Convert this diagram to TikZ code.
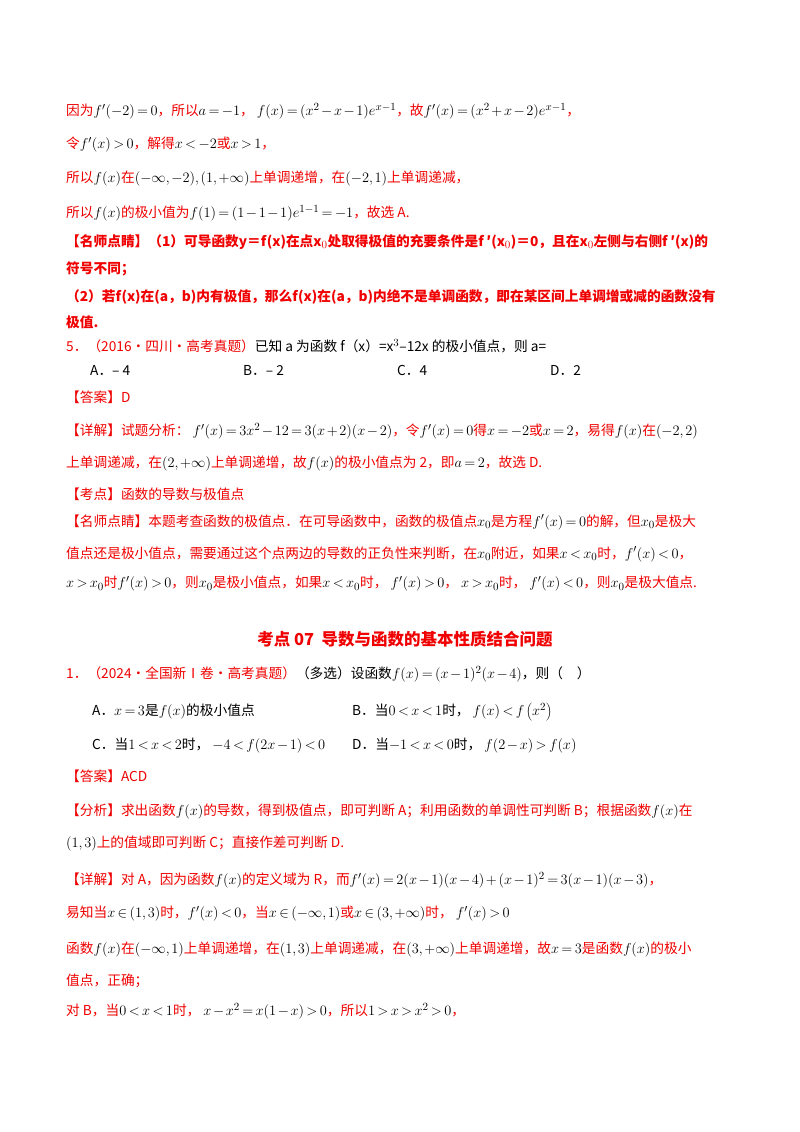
\documentclass[tikz,border=0pt]{standalone}
\usepackage{fontspec}
\setmainfont{Noto Sans CJK SC}
\DeclareMathSizes{13.7}{15}{11}{9}
\definecolor{rd}{RGB}{240,0,0}
\newcommand\rr[1]{\textcolor{rd}{#1}}
\thickmuskip=3mu\relax
\medmuskip=2mu\relax
\thinmuskip=2mu\relax
\begin{document}
\begin{tikzpicture}[x=1pt,y=-1pt,
  ln/.style={anchor=west,inner sep=0pt,font=\fontsize{13.7}{16}\selectfont}]
\useasboundingbox[fill=white] (0,0) rectangle (800,1132);
\node[ln] (l1) at (66,111) {\rr{因为}$f'(-2)=0$\rr{，所以}$a=-1$\rr{，}\ $f(x)=(x^2-x-1)e^{x-1}$\rr{，故}$f'(x)=(x^2+x-2)e^{x-1}$\rr{，}};
\node[ln] (l2) at (66,145) {\rr{令}$f'(x)>0$\rr{，解得}$x<-2$\rr{或}$x>1$\rr{，}};
\node[ln] (l3) at (66,179) {\rr{所以}$f(x)$\rr{在}$(-\infty,-2),(1,+\infty)$\rr{上单调递增，在}$(-2,1)$\rr{上单调递减，}};
\node[ln] (l4) at (66,213) {\rr{所以}$f(x)$\rr{的极小值为}$f(1)=(1-1-1)e^{1-1}=-1$\rr{，故选 A.}};
\node[ln] (l5) at (66,242) {\rr{\bfseries 【名师点睛】（1）可导函数\textit{y}＝\textit{f}(\textit{x})在点\textit{x}$_0$处取得极值的充要条件是\textit{f}\,′(\textit{x}$_0$)＝0，且在\textit{x}$_0$左侧与右侧\textit{f}\,′(\textit{x})的}};
\node[ln] (l6) at (66,269) {\rr{\bfseries 符号不同；}};
\node[ln] (l7) at (66,297) {\rr{\bfseries （2）若\textit{f}(\textit{x})在(\textit{a}，\textit{b})内有极值，那么\textit{f}(\textit{x})在(\textit{a}，\textit{b})内绝不是单调函数，即在某区间上单调增或减的函数没有}};
\node[ln] (l8) at (66,322) {\rr{\bfseries 极值.}};
\node[ln] (l9) at (66,346) {\rr{5．（2016·四川·高考真题）}已知 a 为函数 f（x）=x$^3$–12x 的极小值点，则 a=};
\node[ln] (oA) at (90,370) {A．– 4};
\node[ln] (oB) at (243,370) {B．– 2};
\node[ln] (oC) at (397,370) {C．4};
\node[ln] (oD) at (550,370) {D．2};
\node[ln] (l10) at (66,397) {\rr{【答案】D}};
\node[ln] (l11) at (66,431) {\rr{【详解】试题分析：}\ $f'(x)=3x^2-12=3(x+2)(x-2)$\rr{，令}$f'(x)=0$\rr{得}$x=-2$\rr{或}$x=2$\rr{，易得}$f(x)$\rr{在}$(-2,2)$};
\node[ln] (l12) at (66,464) {\rr{上单调递减，在}$(2,+\infty)$\rr{上单调递增，故}$f(x)$\rr{的极小值点为 2，即}$a=2$\rr{，故选 D.}};
\node[ln] (l13) at (66,494) {\rr{【考点】函数的导数与极值点}};
\node[ln] (l14) at (66,522) {\rr{【名师点睛】本题考查函数的极值点．在可导函数中，函数的极值点}$x_0$\rr{是方程}$f'(x)=0$\rr{的解，但}$x_0$\rr{是极大}};
\node[ln] (l15) at (66,554) {\rr{值点还是极小值点，需要通过这个点两边的导数的正负性来判断，在}$x_0$\rr{附近，如果}$x<x_0$\rr{时，}$f'(x)<0$\rr{，}};
\node[ln] (l16) at (66,584) {$x>x_0$\rr{时}$f'(x)>0$\rr{，则}$x_0$\rr{是极小值点，如果}$x<x_0$\rr{时，}\ $f'(x)>0$\rr{，}\ $x>x_0$\rr{时，}\ $f'(x)<0$\rr{，则}$x_0$\rr{是极大值点.}};
\node[anchor=center,inner sep=0pt,font=\fontsize{16.5}{18}\selectfont\bfseries] (tt) at (405,639) {\rr{考点 07\ \ 导数与函数的基本性质结合问题}};
\node[ln] (q1) at (66,674) {\rr{1．（2024·全国新Ⅰ卷·高考真题）}（多选）设函数$f(x)=(x-1)^2(x-4)$，则（\quad ）};
\node[ln] (qA) at (92,712) {A．$x=3$是$f(x)$的极小值点};
\node[ln] (qB) at (352,712) {B．当$0<x<1$时，\ $f(x)<f\left(x^2\right)$};
\node[ln] (qC) at (92,746) {C．当$1<x<2$时，\ $-4<f(2x-1)<0$};
\node[ln] (qD) at (352,746) {D．当$-1<x<0$时，\ $f(2-x)>f(x)$};
\node[ln] (a1) at (66,776) {\rr{【答案】ACD}};
\node[ln] (f1) at (66,811) {\rr{【分析】求出函数}$f(x)$\rr{的导数，得到极值点，即可判断 A；利用函数的单调性可判断 B；根据函数}$f(x)$\rr{在}};
\node[ln] (f2) at (66,844) {$(1,3)$\rr{上的值域即可判断 C；直接作差可判断 D.}};
\node[ln] (d1) at (66,880) {\rr{【详解】对 A，因为函数}$f(x)$\rr{的定义域为 R，而}$f'(x)=2(x-1)(x-4)+(x-1)^2=3(x-1)(x-3)$\rr{，}};
\node[ln] (d2) at (66,914) {\rr{易知当}$x\in(1,3)$\rr{时，}$f'(x)<0$\rr{，当}$x\in(-\infty,1)$\rr{或}$x\in(3,+\infty)$\rr{时，}\ $f'(x)>0$};
\node[ln] (d3) at (66,950) {\rr{函数}$f(x)$\rr{在}$(-\infty,1)$\rr{上单调递增，在}$(1,3)$\rr{上单调递减，在}$(3,+\infty)$\rr{上单调递增，故}$x=3$\rr{是函数}$f(x)$\rr{的极小}};
\node[ln] (d4) at (66,981) {\rr{值点，正确；}};
\node[ln] (d5) at (66,1011) {\rr{对 B，当}$0<x<1$\rr{时，}\ $x-x^2=x(1-x)>0$\rr{，所以}$1>x>x^2>0$\rr{，}};
\end{tikzpicture}
\end{document}
